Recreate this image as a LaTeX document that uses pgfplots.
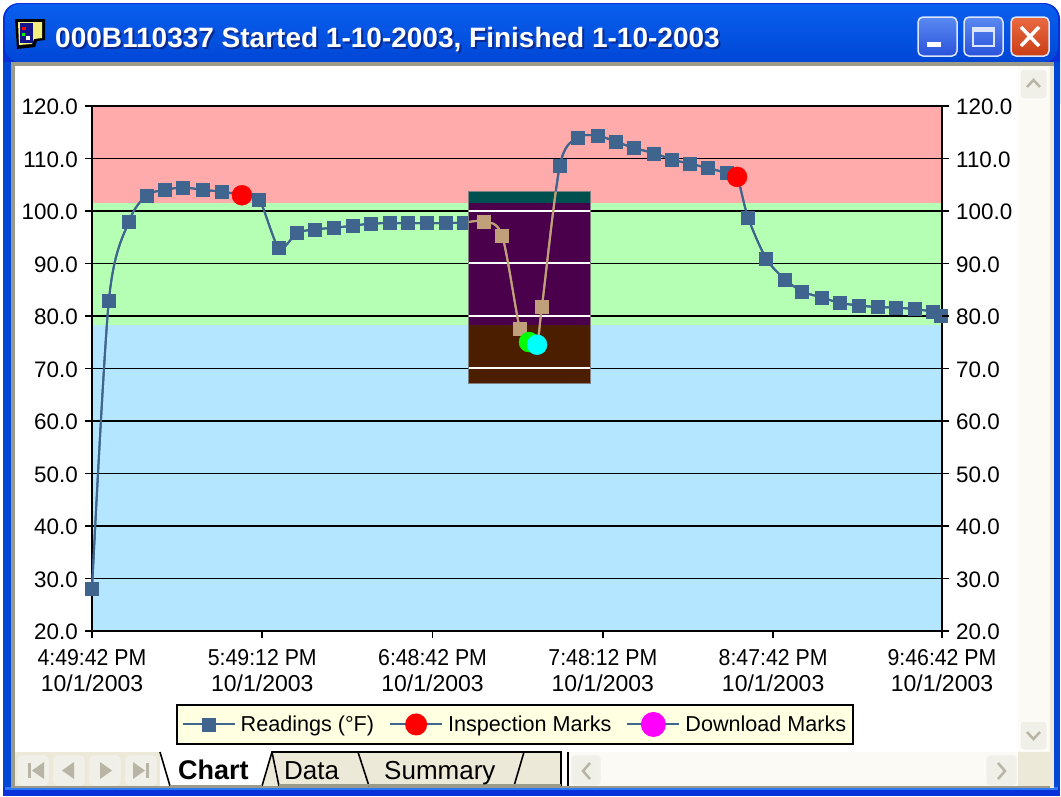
\documentclass[border=0pt]{standalone}
\usepackage{pgfplots}
\usepackage{pgfplotstable}
\usepackage{fontspec}
\setmainfont{Liberation Sans}
\pgfplotsset{compat=1.18}
\definecolor{bluA}{HTML}{0A5FEE}
\definecolor{bluB}{HTML}{0047D6}
\definecolor{bluE}{HTML}{0831D9}
\definecolor{bluL}{HTML}{2A78F4}
\definecolor{frameG}{HTML}{9C9A88}
\definecolor{xpbeige}{HTML}{ECE9D8}
\definecolor{barW}{HTML}{FBFAF5}
\definecolor{btn}{HTML}{F1F0E8}
\definecolor{arrowG}{HTML}{B8B5A6}
\definecolor{lgd}{HTML}{FFFFE1}
\definecolor{pink}{HTML}{FFABAB}
\definecolor{lgreen}{HTML}{B4FFB4}
\definecolor{lblue}{HTML}{B4E6FF}
\definecolor{teal}{HTML}{005050}
\definecolor{purp}{HTML}{4B004B}
\definecolor{brwn}{HTML}{4B1E00}
\definecolor{ser}{HTML}{3F658F}
\definecolor{tan}{HTML}{C0A07A}
\definecolor{pRed}{HTML}{FF0000}
\definecolor{pGreen}{HTML}{00FF00}
\definecolor{pCyan}{HTML}{00FFFF}
\definecolor{pMag}{HTML}{FF00FF}
\definecolor{capT}{HTML}{5A8AF2}
\definecolor{capB}{HTML}{2A52DA}
\definecolor{closeT}{HTML}{EA6A42}
\definecolor{closeB}{HTML}{C93E14}
\definecolor{capE}{HTML}{DCE6FA}
\definecolor{icoY}{HTML}{F4F080}
\definecolor{icoB}{HTML}{14148C}
\definecolor{shad}{HTML}{0A2A90}
\pgfplotstableread{
x y
0 28
5.9 83
12.9 98
19.2 103
25.5 104
31.8 104.5
38.8 104
45.4 103.7
52.4 103
58.4 102.2
65.3 93
71.6 95.8
77.9 96.5
84.6 96.8
91.2 97.2
97.5 97.6
104.1 97.7
110.4 97.7
117.1 97.7
123.7 97.7
130 97.8
137 98
143.3 95.3
149.5 77.5
152.7 75
155.5 74.5
157.2 81.7
163.5 108.7
169.8 114
176.8 114.3
183.1 113.2
189.4 112
196.4 111
202.7 109.8
208.9 109
215.2 108.2
221.9 107.2
225.4 106.5
229.2 98.8
235.5 91
242.1 87
248.1 84.7
255.1 83.5
261.4 82.5
268 82
274.6 81.7
280.9 81.6
287.6 81.3
293.9 80.8
296.5 80
}\readings
\pgfplotstableread{
x y
52.4 103
155.5 74.5
225.4 106.5
}\inspection
\pgfplotstableread{
x y
152.7 75
}\download
\newcommand{\tl}[1]{\scalebox{.925}[1]{#1}}
\begin{document}
\begin{tikzpicture}[x=1pt,y=-1pt]
\path[use as bounding box] (0,0) rectangle (1061,796);
\fill[white] (0,0) rectangle (1061,796);
% window frame
\fill[bluE,rounded corners=16pt] (3,3) rectangle (1060,120);
\fill[bluE] (3,50) rectangle (1060,796);
\shade[top color=bluA,bottom color=bluB,rounded corners=15pt] (5,4) rectangle (1058,62);
\fill[bluL] (5,787) rectangle (1058,790);
\fill[bluB] (3,62) rectangle (12,787);
\fill[bluB] (1053,62) rectangle (1060,787);
\fill[frameG] (11,62) rectangle (1054,788);
\fill[xpbeige] (1050,66) rectangle (1054,788);
\fill[white] (15,66) rectangle (1050,786);
% title icon
\fill[black] (15,19) -- (45,19) -- (45,40) -- (37,41) -- (35,47) -- (17,49) -- cycle;
\fill[icoY] (18,22) -- (42,22) -- (42,38) -- (34,39) -- (32,44) -- (19,45) -- cycle;
\fill[icoB] (20,23) rectangle (33,43);
\fill[white] (26,36) rectangle (30,40);
\fill[pRed] (22,27) rectangle (26,30);
\fill[pGreen] (22,33) rectangle (25,36);
% title
\node[anchor=west,inner sep=0pt,text=shad] at (57,42) {\fontsize{28}{32}\selectfont\bfseries 000B110337 Started 1-10-2003, Finished 1-10-2003};
\node[anchor=west,inner sep=0pt,text=white] at (55,40) {\fontsize{28}{32}\selectfont\bfseries 000B110337 Started 1-10-2003, Finished 1-10-2003};
% caption buttons
\shade[top color=capT,bottom color=capB,draw=capE,line width=1.5pt,rounded corners=5pt] (918,17) rectangle (957,56);
\fill[white] (927,42) rectangle (941,47);
\shade[top color=capT,bottom color=capB,draw=capE,line width=1.5pt,rounded corners=5pt] (964,17) rectangle (1003,56);
\draw[capE,line width=1.5pt] (973,28) rectangle (994,46);
\fill[capE] (973,27) rectangle (994,32);
\shade[top color=closeT,bottom color=closeB,draw=capE,line width=1.5pt,rounded corners=5pt] (1011,17) rectangle (1049,56);
\draw[white,line width=3.5pt] (1021,27) -- (1039,46) (1039,27) -- (1021,46);
% right scrollbar
\fill[barW] (1018,66) rectangle (1050,752);
\draw[white,fill=btn,line width=1pt,rounded corners=3pt] (1020,69) rectangle (1047,99);
\draw[arrowG,line width=2.5pt] (1027,87) -- (1033.5,80) -- (1040,87);
\draw[white,fill=btn,line width=1pt,rounded corners=3pt] (1020,721) rectangle (1047,750);
\draw[arrowG,line width=2.5pt] (1027,732) -- (1033.5,739) -- (1040,732);
% bottom bars
\fill[xpbeige] (15,752) rectangle (160,786);
\fill[xpbeige] (262,752) rectangle (561,786);
\fill[white] (161,752) -- (262,752) -- (271,752) -- (263,785) -- (171,785) -- cycle;
\fill[barW] (568,752) rectangle (1018,786);
\fill[xpbeige] (1018,752) rectangle (1050,786);
\foreach \a/\b in {18/48,54/84,90/120,126/156}{
  \draw[white!80!arrowG,fill=btn,line width=1.2pt,rounded corners=4pt] (\a,756) rectangle (\b,785);}
\fill[arrowG] (28,763) rectangle (31,778);
\fill[arrowG] (44,762) -- (44,779) -- (32,770.5) -- cycle;
\fill[arrowG] (74,762) -- (74,779) -- (62,770.5) -- cycle;
\fill[arrowG] (100,762) -- (100,779) -- (112,770.5) -- cycle;
\fill[arrowG] (133,762) -- (133,779) -- (145,770.5) -- cycle;
\fill[arrowG] (146,763) rectangle (149,778);
\draw[white!80!arrowG,fill=btn,line width=1.2pt,rounded corners=3pt] (572,756) rectangle (600,785);
\draw[arrowG,line width=2.5pt] (590,763) -- (583,771) -- (590,779);
\draw[white!80!arrowG,fill=btn,line width=1.2pt,rounded corners=3pt] (987,756) rectangle (1016,785);
\draw[arrowG,line width=2.5pt] (998,763) -- (1005,771) -- (998,779);
% tabs
\draw[black,line width=1.6pt] (160,752) -- (170,786);
\draw[black,line width=1.6pt] (262,786) -- (272,752) -- (561,752) -- (561,786);
\draw[black,line width=1.6pt] (568,752) -- (568,786);
\draw[black,line width=1.6pt] (272,752) -- (279,786);
\draw[black,line width=1.6pt] (358,752) -- (369,786);
\draw[black,line width=1.6pt] (524,752) -- (514,786);
\draw[frameG,line width=1.6pt] (170,786) -- (262,786);
\draw[frameG,line width=2pt] (279,785) -- (561,785);
\node[anchor=base west,inner sep=0pt] at (178,779) {\fontsize{27}{30}\selectfont\bfseries Chart};
\node[anchor=base west,inner sep=0pt] at (284,779) {\fontsize{26}{30}\selectfont Data};
\node[anchor=base west,inner sep=0pt] at (384,779) {\fontsize{26}{30}\selectfont Summary};
% main axis
\begin{axis}[
  at={(92pt,-631pt)},anchor=south west,scale only axis,width=850pt,height=525pt,
  xmin=0,xmax=297,ymin=20,ymax=120,clip=false,
  axis line style={draw=none},
  xtick={0,59.5,119,178.5,238,297},
  xticklabels={{\tl{4:49:42 PM}\\10/1/2003},{\tl{5:49:12 PM}\\10/1/2003},{\tl{6:48:42 PM}\\10/1/2003},{\tl{7:48:12 PM}\\10/1/2003},{\tl{8:47:42 PM}\\10/1/2003},{\tl{9:46:42 PM}\\10/1/2003}},
  xticklabel style={align=center,font=\fontsize{23}{26}\selectfont,inner sep=0pt,yshift=-11pt},
  x tick label as interval=false,
  xtick pos=bottom,ytick pos=left,
  ytick={20,30,...,120},
  yticklabels={20.0,30.0,40.0,50.0,60.0,70.0,80.0,90.0,100.0,110.0,120.0},
  yticklabel style={font=\fontsize{22.4}{26}\selectfont,inner sep=0pt,xshift=-7pt,yshift=-1pt},
  tick align=outside,major tick length=7pt,
  tick style={black,line width=1.8pt},
  legend columns=3,
  legend style={at={(axis description cs:0.4976,-0.178)},anchor=center,fill=lgd,draw=black,line width=2pt,
    font=\fontsize{21.6}{25}\selectfont,inner xsep=5pt,inner ysep=8pt,
    /tikz/every even column/.append style={column sep=13pt},
    /tikz/every odd column/.append style={column sep=3pt}},
  legend cell align=left,
  legend image code/.code={\draw[mark repeat=2,mark phase=2,line width=2pt,#1] plot coordinates {(0pt,0pt)(26pt,0pt)(52pt,0pt)};},
  reverse legend=false,
]
\addplot[draw=none,fill=lblue,forget plot] coordinates {(0,20)(297,20)(297,78.3)(0,78.3)} --cycle;
\addplot[draw=none,fill=lgreen,forget plot] coordinates {(0,78.3)(297,78.3)(297,101.5)(0,101.5)} --cycle;
\addplot[draw=none,fill=pink,forget plot] coordinates {(0,101.5)(297,101.5)(297,120)(0,120)} --cycle;
\pgfplotsinvokeforeach{30,40,50,60,70,80,90,100,110}{
  \addplot[black,line width=1.8pt,forget plot] coordinates {(0,#1)(297,#1)};}
\addplot[black,line width=1.8pt,forget plot] coordinates {(0,20)(0,120)(297,120)(297,20)(0,20)};
\addplot[ser,line width=2pt,smooth,tension=.5,mark=square*,mark size=6.5pt,mark options={fill=ser,draw=ser,solid,line width=.5pt}] table {\readings};
\addlegendentry{Readings (°F)}
\addplot[only marks,mark=*,mark size=10pt,mark options={fill=pRed,draw=pRed},forget plot] table {\inspection};
\addplot[only marks,mark=*,mark size=10pt,mark options={fill=pMag,draw=pMag},forget plot] table {\download};
\addplot[ser,line width=2pt,smooth,tension=.5,no markers,forget plot] table {\readings};
\addlegendimage{ser,mark=*,mark size=10pt,mark options={fill=pRed,draw=pRed}}
\addlegendentry{Inspection Marks}
\addlegendimage{ser,mark=*,mark size=11.5pt,mark options={fill=pMag,draw=pMag}}
\addlegendentry{Download Marks}
\end{axis}
% right-hand labels
\begin{axis}[
  at={(92pt,-631pt)},anchor=south west,scale only axis,width=850pt,height=525pt,
  xmin=0,xmax=297,ymin=20,ymax=120,
  axis line style={draw=none},xtick=\empty,
  ytick={20,30,...,120},ytick pos=right,yticklabel pos=right,
  yticklabels={20.0,30.0,40.0,50.0,60.0,70.0,80.0,90.0,100.0,110.0,120.0},
  yticklabel style={font=\fontsize{22.4}{26}\selectfont,inner sep=0pt,xshift=7pt,yshift=-1pt},
  tick align=outside,major tick length=7pt,
  tick style={black,line width=1.8pt},
]
\end{axis}
% inverted selection
\begin{axis}[
  at={(468pt,-383pt)},anchor=south west,scale only axis,width=122pt,height=192pt,
  xmin=131.4,xmax=174,ymin=67.2,ymax=103.8,clip=true,
  xtick=\empty,ytick=\empty,
  axis on top,axis line style={draw=gray,line width=1pt},
]
\addplot[draw=none,fill=brwn] coordinates {(131.4,67.2)(174,67.2)(174,78.3)(131.4,78.3)} --cycle;
\addplot[draw=none,fill=purp] coordinates {(131.4,78.3)(174,78.3)(174,101.5)(131.4,101.5)} --cycle;
\addplot[draw=none,fill=teal] coordinates {(131.4,101.5)(174,101.5)(174,103.8)(131.4,103.8)} --cycle;
\pgfplotsinvokeforeach{70,80,90,100}{
  \addplot[white,line width=1.8pt] coordinates {(131.4,#1)(174,#1)};}
\addplot[tan,line width=2pt,smooth,tension=.5,mark=square*,mark size=6.5pt,mark options={fill=tan,draw=tan,solid,line width=.5pt}] table {\readings};
\addplot[only marks,mark=*,mark size=10pt,mark options={fill=pGreen,draw=pGreen}] table {\download};
\addplot[only marks,mark=*,mark size=10pt,mark options={fill=pCyan,draw=pCyan}] coordinates {(155.5,74.5)};
\addplot[tan,line width=2pt,smooth,tension=.5,no markers] table {\readings};
\end{axis}
\end{tikzpicture}
\end{document}
